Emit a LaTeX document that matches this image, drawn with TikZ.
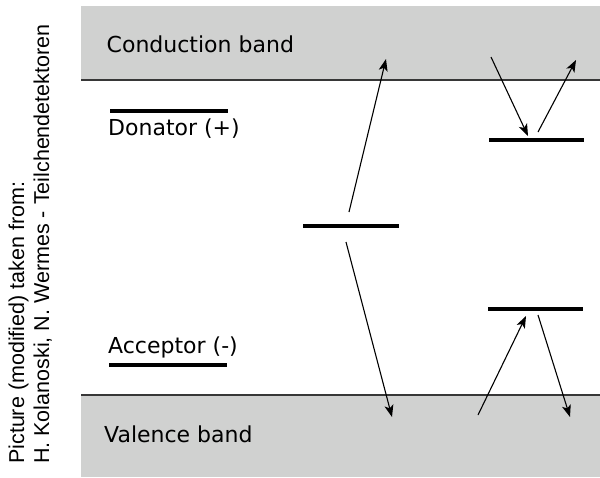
\documentclass[tikz,border=0pt]{standalone}
\usepackage{fontspec}
\setmainfont{DejaVu Sans}
\newfontfamily\creditfont{Liberation Sans}
\usetikzlibrary{arrows.meta}
\definecolor{bandgray}{RGB}{208,209,208}
\definecolor{edgegray}{RGB}{55,55,55}
\begin{document}
\begin{tikzpicture}[x=1pt,y=-1pt,
  levelline/.style={line width=3.6pt},
  edgeline/.style={edgegray,line width=1.2pt},
  arr/.style={line width=1.1pt,-{Stealth[length=12pt,width=9pt,inset=3pt]}},
  lbl/.style={anchor=base west,inner sep=0pt,font=\fontsize{22}{26}\selectfont},
  credit/.style={rotate=90,anchor=base west,inner sep=0pt,font=\creditfont\fontsize{21.5}{25}\selectfont}]
\useasboundingbox (0,0) rectangle (600,477);
% bands
\fill[bandgray] (81,6) rectangle (600,80);
\fill[bandgray] (81,395) rectangle (600,477);
\coordinate (cbl) at (81,80);  \coordinate (cbr) at (600,80);
\coordinate (vbl) at (81,395); \coordinate (vbr) at (600,395);
\draw[edgeline] (cbl) -- (cbr);
\draw[edgeline] (vbl) -- (vbr);
% labels
\node[lbl] (cb) at (106.5,52) {Conduction band};
\node[lbl] (don) at (108,135) {Donator (+)};
\node[lbl] (acc) at (108,353) {Acceptor (-)};
\node[lbl] (vb) at (104,442) {Valence band};
\node[credit] (c1) at (24,464) {Picture (modified) taken from:};
\node[credit] (c2) at (49,464) {H. Kolanoski, N. Wermes - Teilchendetektoren};
% legend levels
\coordinate (ldA) at (110,111); \coordinate (ldB) at (228,111);
\coordinate (laA) at (109,365); \coordinate (laB) at (227,365);
\draw[levelline] (ldA) -- (ldB);
\draw[levelline] (laA) -- (laB);
% mid-gap level
\coordinate (mA) at (303,226); \coordinate (mB) at (399,226);
\draw[levelline] (mA) -- (mB);
\coordinate (m1s) at (349,212); \coordinate (m1e) at (386,59);
\coordinate (m2s) at (346,242); \coordinate (m2e) at (392,417);
\draw[arr] (m1s) -- (m1e);
\draw[arr] (m2s) -- (m2e);
% donor level right
\coordinate (dA) at (489,140); \coordinate (dB) at (584,140);
\draw[levelline] (dA) -- (dB);
\coordinate (d1s) at (491,57); \coordinate (d1e) at (528,136);
\coordinate (d2s) at (538,132); \coordinate (d2e) at (576,60);
\draw[arr] (d1s) -- (d1e);
\draw[arr] (d2s) -- (d2e);
% acceptor level right
\coordinate (aA) at (488,309); \coordinate (aB) at (583,309);
\draw[levelline] (aA) -- (aB);
\coordinate (a1s) at (478,415); \coordinate (a1e) at (526,316);
\coordinate (a2s) at (538,315); \coordinate (a2e) at (570,417);
\draw[arr] (a1s) -- (a1e);
\draw[arr] (a2s) -- (a2e);
\end{tikzpicture}
\end{document}
